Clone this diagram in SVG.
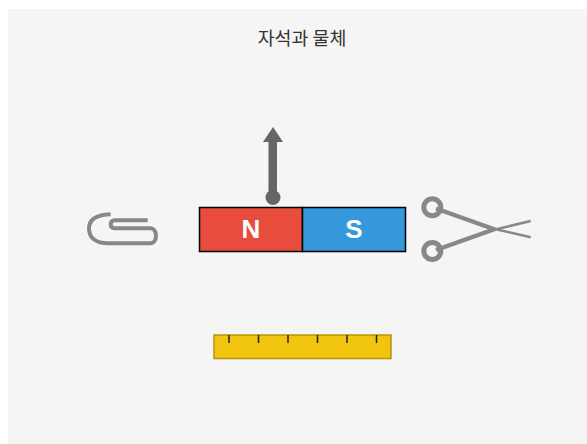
<svg xmlns="http://www.w3.org/2000/svg" width="587" height="444" viewBox="0 0 587 444">
<style>
.title{font-family:"Noto Sans CJK KR","Liberation Sans",sans-serif;font-size:18.4px;fill:#333;text-anchor:middle}
.pole{font-family:"Liberation Sans",Arial,sans-serif;font-size:26px;font-weight:bold;fill:#fff;text-anchor:middle}
.tick{stroke:#222;stroke-width:1.5;fill:none}
.gray{stroke:#888;fill:none}
</style>
<rect width="587" height="444" fill="#fff"/>
<rect x="8" y="9" width="579" height="435" fill="#f5f5f5"/>
<text class="title" x="302" y="45">자석과 물체</text>
<g id="magnet">
<rect x="199.500" y="207.500" width="103" height="44" fill="#e74c3c" stroke="#000" stroke-width="1.5"/>
<rect x="302.500" y="207.500" width="103" height="44" fill="#3498db" stroke="#000" stroke-width="1.5"/>
<text class="pole" x="251" y="238">N</text>
<text class="pole" x="354" y="238">S</text>
</g>
<g id="compass-arrow">
<rect x="268.500" y="140" width="8.500" height="58" fill="#666"/>
<polygon points="273,127 283,142 263,142" fill="#666"/>
<circle cx="273" cy="197.500" r="7.500" fill="#666"/>
</g>
<g id="paperclip">
<path class="gray" stroke-width="4" d="M110.700 214.300C95 214.800 89 220 89 228.500C89 238 96 243.300 108 243.300H150C154 243.300 156 240 156 235.800C156 231.500 154 228.300 150 228.300H115C112 228.300 110.700 226.500 110.700 224.500C110.700 222 112 220.300 115 220.300H147.700"/>
</g>
<g id="scissors">
<circle class="gray" cx="432.300" cy="207.300" r="8.500" stroke-width="5"/>
<circle class="gray" cx="432.300" cy="251" r="8.500" stroke-width="5"/>
<path class="gray" stroke-width="4.500" d="M436 208.500L495 229.500M436 250L495 229"/>
<path class="gray" stroke-width="2.500" d="M495 229L530.700 237.300M495 229.500L530.700 221"/>
</g>
<g id="ruler">
<rect x="214" y="335" width="177" height="23.500" fill="#f1c40f" stroke="#b7950b" stroke-width="1.500"/>
<path class="tick" d="M229 335V343M258.500 335V343M288 335V343M317.500 335V343M347 335V343M376.500 335V343"/>
</g>
</svg>
